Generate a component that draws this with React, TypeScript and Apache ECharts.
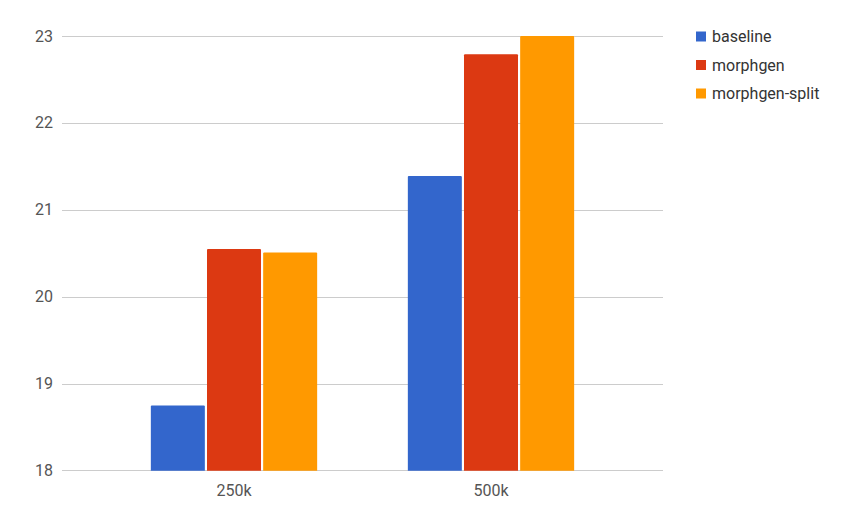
import React, { useEffect, useRef } from "react";
import * as echarts from "echarts";

const categories = ["250k", "500k"];
const seriesNames = ["baseline", "morphgen", "morphgen-split"];
const baseline = [18.75, 21.39];
const morphgen = [20.55, 22.79];
const morphgenSplit = [20.51, 23.0];
const yTicks = [18, 19, 20, 21, 22, 23];
const colors = ["#3366CC", "#DC3912", "#FF9900"];

export default function App() {
  const ref = useRef<HTMLDivElement>(null);
  useEffect(() => {
    if (!ref.current) return;
    const chart = echarts.init(ref.current, undefined, { renderer: "svg" });
    const values = [baseline, morphgen, morphgenSplit];
    const font = "Roboto";
    chart.setOption({
      animation: false,
      color: colors,
      textStyle: { fontFamily: font },
      legend: {
        orient: "vertical",
        left: 691,
        top: 22,
        icon: "rect",
        itemWidth: 10,
        itemHeight: 10,
        itemGap: 9.5,
        data: seriesNames,
        textStyle: { fontSize: 16, color: "#333333", lineHeight: 19, fontFamily: font, padding: [0, 0, 0, 1] },
      },
      grid: [
        { left: 62, right: 187, top: 36, bottom: 54.3, containLabel: false },
        { left: 105.5, right: 230.5, top: 36, bottom: 54.3, containLabel: false },
      ],
      xAxis: [
        { type: "category", gridIndex: 0, data: categories, show: false },
        {
          type: "category",
          gridIndex: 1,
          data: categories,
          axisLine: { show: false },
          axisTick: { show: false },
          axisLabel: { color: "#555555", fontSize: 16, margin: 12, fontFamily: font },
        },
      ],
      yAxis: [
        {
          type: "value",
          gridIndex: 0,
          min: yTicks[0],
          max: yTicks[yTicks.length - 1],
          interval: 1,
          axisLine: { show: false },
          axisTick: { show: false },
          axisLabel: { color: "#555555", fontSize: 16, margin: 9, fontFamily: font },
          splitLine: { lineStyle: { color: "#cccccc", width: 1 } },
        },
        {
          type: "value",
          gridIndex: 1,
          min: yTicks[0],
          max: yTicks[yTicks.length - 1],
          interval: 1,
          show: false,
          splitLine: { show: false },
        },
      ],
      series: seriesNames.map((name, i) => ({
        name,
        type: "bar",
        xAxisIndex: 1,
        yAxisIndex: 1,
        data: values[i],
        barWidth: 54,
        barGap: "4%",
        itemStyle: { color: colors[i], borderRadius: [1, 1, 0, 0] },
      })),
    });
    return () => chart.dispose();
  }, []);
  return <div ref={ref} style={{ position: "absolute", left: 0, top: 0, width: 850, height: 525 }} />;
}
